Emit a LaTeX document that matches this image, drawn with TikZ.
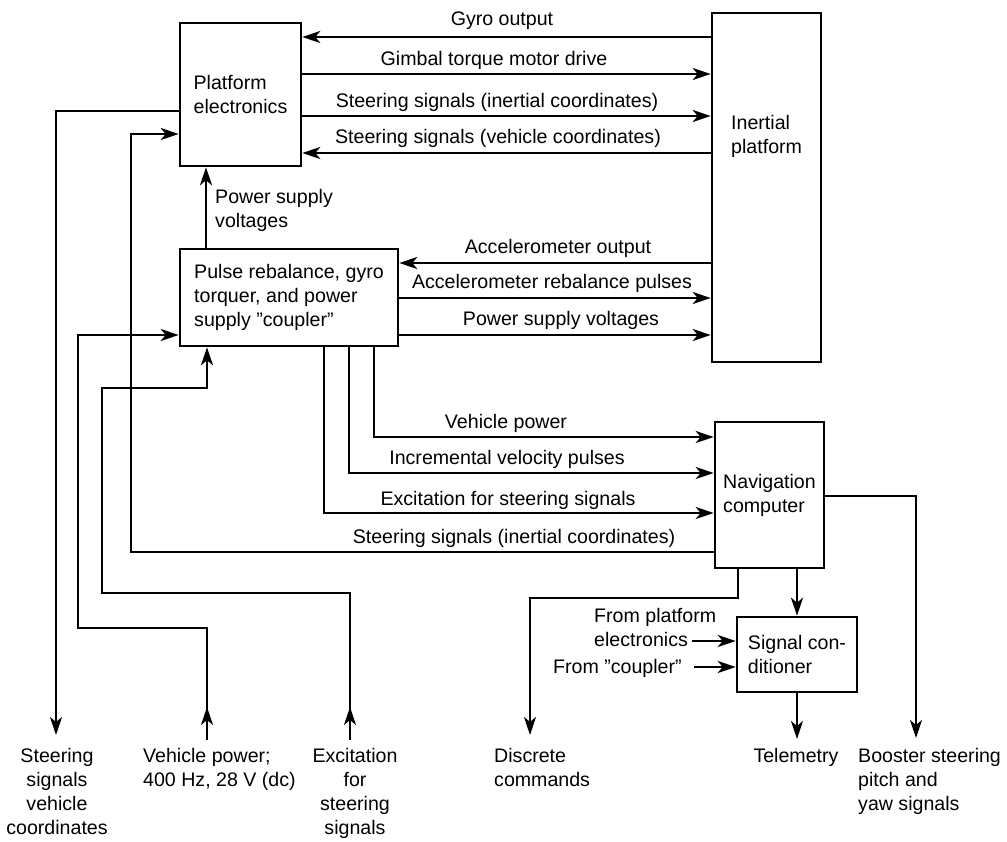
\documentclass[tikz,border=0pt]{standalone}
\usepackage{fontspec}
\setmainfont{Liberation Sans}
\usetikzlibrary{arrows.meta}
\begin{document}
\begin{tikzpicture}[x=1pt,y=-1pt,
  txt/.style={font=\fontsize{19.6}{24}\selectfont, inner sep=0pt},
  box/.style={draw, line width=2.6pt, inner sep=0pt, align=left,
              font=\fontsize{19.6}{24}\selectfont},
  wire/.style={line width=2.3pt},
  arr/.style={wire, -{Stealth[length=18pt,width=12pt,inset=5pt]}},
]
\useasboundingbox (0,0) rectangle (1007,841);

% ---------- blocks ----------
\node[box, minimum width=121pt, minimum height=143pt] (pe) at (240.5,94.5) {Platform\\electronics};
\node[box, minimum width=218pt, minimum height=97pt] (cp) at (289,297.5)
  {Pulse rebalance, gyro\\torquer, and power\\supply ''coupler''};
\node[box, minimum width=109pt, minimum height=349pt] (ip) at (766.5,187.5) {};
\node[txt, anchor=north west, align=left] (iplbl) at (731,115) {Inertial\\platform};
\node[box, minimum width=109pt, minimum height=146pt] (nav) at (769.5,495) {Navigation\\computer};
\node[box, minimum width=120pt, minimum height=75pt] (sc) at (797,654.5) {Signal con-\\ditioner};

% ---------- platform electronics <-> inertial platform ----------
\draw[arr] (ip.west |- 0,37) -- (pe.east |- 0,37);
\draw[arr] (pe.east |- 0,74) -- (ip.west |- 0,74);
\draw[arr] (pe.east |- 0,116) -- (ip.west |- 0,116);
\draw[arr] (ip.west |- 0,153) -- (pe.east |- 0,153);
\node[txt, anchor=base] (l1) at (502,25) {Gyro output};
\node[txt, anchor=base] (l2) at (494,65) {Gimbal torque motor drive};
\node[txt, anchor=base] (l3) at (497,107) {Steering signals (inertial coordinates)};
\node[txt, anchor=base] (l4) at (498,143) {Steering signals (vehicle coordinates)};

% ---------- coupler -> platform electronics ----------
\draw[arr] (cp.north -| 206,0) -- (pe.south -| 206,0);
\node[txt, anchor=north west, align=left] (l5) at (215,189) {Power supply\\voltages};

% ---------- coupler <-> inertial platform ----------
\draw[arr] (ip.west |- 0,263) -- (cp.east |- 0,263);
\draw[arr] (cp.east |- 0,298) -- (ip.west |- 0,298);
\draw[arr] (cp.east |- 0,335) -- (ip.west |- 0,335);
\node[txt, anchor=base] (l6) at (558,253) {Accelerometer output};
\node[txt, anchor=base] (l7) at (552,288) {Accelerometer rebalance pulses};
\node[txt, anchor=base] (l8) at (561,325) {Power supply voltages};

% ---------- coupler -> navigation computer ----------
\draw[arr] (cp.south -| 374,0) |- (nav.west |- 0,437);
\draw[arr] (cp.south -| 349,0) |- (nav.west |- 0,473);
\draw[arr] (cp.south -| 324,0) |- (nav.west |- 0,513);
\node[txt, anchor=base] (l9) at (506,428) {Vehicle power};
\node[txt, anchor=base] (l10) at (507,464) {Incremental velocity pulses};
\node[txt, anchor=base] (l11) at (508,505) {Excitation for steering signals};

% ---------- navigation computer -> platform electronics ----------
\draw[arr] (nav.west |- 0,552) -| (131,134) -- (pe.west |- 0,134);
\node[txt, anchor=base] (l12) at (514,543) {Steering signals (inertial coordinates)};

% ---------- external inputs and outputs (left) ----------
\coordinate (svcend) at (56,735);
\coordinate (vpin) at (207,740);
\coordinate (exin) at (350,740);
\draw[arr] (pe.west |- 0,111) -| (svcend);
\draw[arr] (vpin) |- (78,628) |- (cp.west |- 0,335);
\draw[arr] (vpin) -- ++(0,-33);
\draw[arr] (exin) |- (102,593) |- (207,388) -- (cp.south -| 207,0);
\draw[arr] (exin) -- ++(0,-33);
\node[txt, anchor=north, align=center] (b1) at (57,748) {Steering\\signals\\vehicle\\coordinates};
\node[txt, anchor=north west, align=left] (b2) at (143,748) {Vehicle power;\\400 Hz, 28 V (dc)};
\node[txt, anchor=north, align=center] (b3) at (355,748) {Excitation\\for\\steering\\signals};

% ---------- navigation computer outputs ----------
\coordinate (dcend) at (530,735);
\coordinate (tmend) at (797,739);
\coordinate (bsend) at (916,738);
\draw[arr] (nav.south -| 738,0) |- (530,598) -- (dcend);
\draw[arr] (nav.south -| 797,0) -- (sc.north -| 797,0);
\draw[arr] (sc.south -| 797,0) -- (tmend);
\draw[arr] (nav.east |- 0,496) -| (bsend);
\node[txt, anchor=north west, align=left] (b4) at (494,748) {Discrete\\commands};
\node[txt, anchor=base] (b5) at (796,762) {Telemetry};
\node[txt, anchor=north west, align=left] (b6) at (858,748) {Booster steering\\pitch and\\yaw signals};

% ---------- signal conditioner inputs ----------
\coordinate (fpe) at (692,641);
\coordinate (fcp) at (694,667);
\draw[arr] (fpe) -- (sc.west |- fpe);
\draw[arr] (fcp) -- (sc.west |- fcp);
\node[txt, anchor=north west, align=left] (b7) at (594,608) {From platform\\electronics};
\node[txt, anchor=base west] (b8) at (553,673) {From ''coupler''};
\end{tikzpicture}
\end{document}
